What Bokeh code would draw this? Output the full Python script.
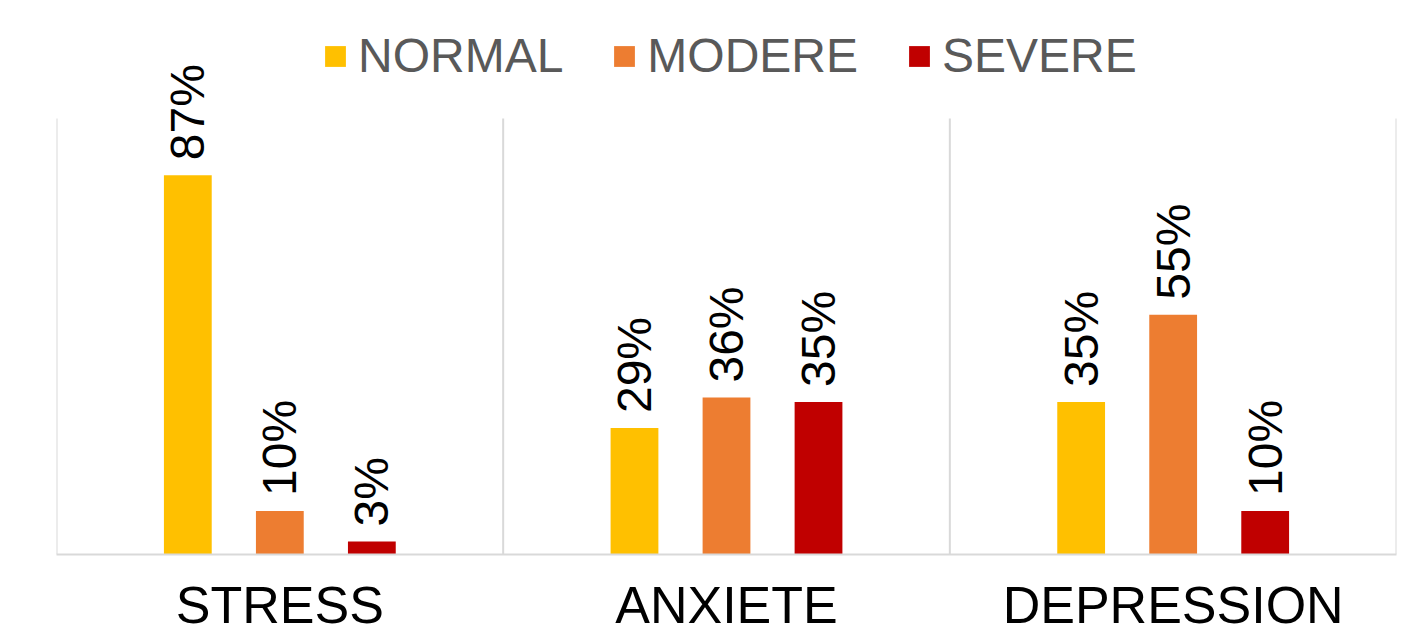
from math import pi
from bokeh.plotting import figure
from bokeh.models import ColumnDataSource, FactorRange, Range1d, Legend, LegendItem
from bokeh.transform import dodge
from bokeh.core.properties import value
from bokeh.embed import file_html
from bokeh.resources import INLINE

categories = ["STRESS", "ANXIETE", "DEPRESSION"]
series_names = ["NORMAL", "MODERE", "SEVERE"]
normal = [87, 29, 35]
modere = [10, 36, 55]
severe = [3, 35, 10]
colors = ["#FFC000", "#ED7D31", "#C00000"]
offsets = [-0.206, 0.0, 0.206]

FONT = "Liberation Sans"

# frame spans fig px 10..554; the 0-100% scale occupies 118..554
y_top = 100 * (554 - 10) / (554 - 118)

p = figure(
    width=1402, height=636,
    x_range=FactorRange(factors=categories, range_padding=0, factor_padding=0),
    y_range=Range1d(0, y_top),
    output_backend="svg", toolbar_location=None,
    min_border_left=56, min_border_right=6, min_border_top=10, min_border_bottom=82,
)
p.outline_line_color = None
p.xgrid.visible = False
p.ygrid.visible = False
p.yaxis.visible = False

p.xaxis.axis_line_color = "#D9D9D9"
p.xaxis.axis_line_width = 2
p.xaxis.major_tick_line_color = None
p.xaxis.minor_tick_line_color = None
p.xaxis.major_tick_out = 0
p.xaxis.major_tick_in = 0
p.xaxis.major_label_standoff = 21
p.xaxis.major_label_text_font = FONT
p.xaxis.major_label_text_font_size = "52px"
p.xaxis.major_label_text_line_height = 1.0
p.xaxis.major_label_text_color = "#000000"

# category separators (0..100 %)
bounds = list(range(len(categories) + 1))
p.segment(x0=bounds, y0=[0] * len(bounds), x1=bounds, y1=[100] * len(bounds),
          line_color="#D9D9D9", line_width=2)

items = []
for name, vals, col, off in zip(series_names, [normal, modere, severe], colors, offsets):
    src = ColumnDataSource(dict(cat=categories, val=vals, lab=[f"{v}%" for v in vals]))
    r = p.vbar(x=dodge("cat", off, range=p.x_range), top="val", width=0.107, source=src,
               fill_color=col, line_color=None)
    p.text(x=dodge("cat", off, range=p.x_range), y="val", text="lab", source=src,
           angle=pi / 2, text_align="left", text_baseline="middle", y_offset=-15,
           text_font=value(FONT), text_font_size=value("48px"), text_color="#000000")
    items.append(LegendItem(label=name, renderers=[r]))

legend = Legend(items=items, orientation="horizontal", location=(266, 471),
                label_text_font=FONT, label_text_font_size="48px", label_text_color="#595959",
                glyph_width=26, glyph_height=26, label_standoff=10, spacing=48,
                padding=0, margin=0, border_line_color=None, background_fill_alpha=0)
p.add_layout(legend, "center")

open("out.html", "w").write(file_html(p, INLINE))
